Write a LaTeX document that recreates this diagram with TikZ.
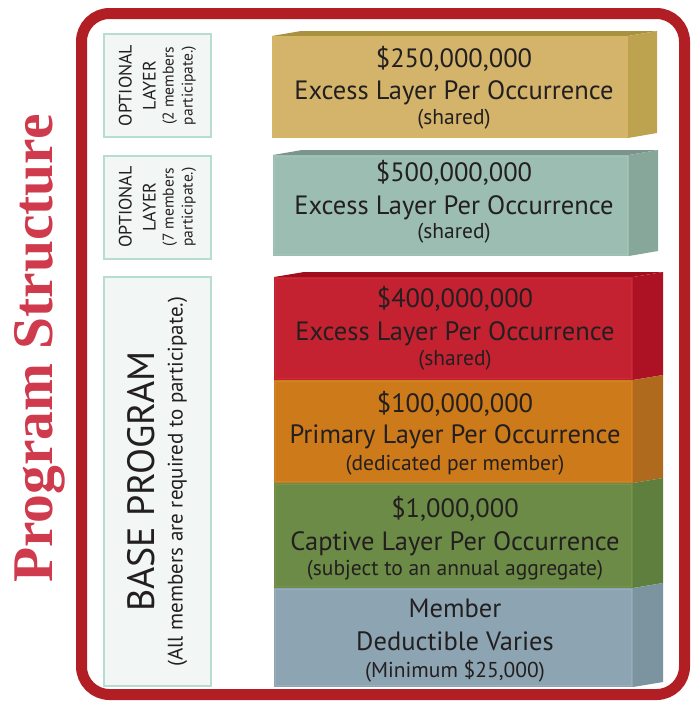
\documentclass[tikz,border=0pt]{standalone}
\usepackage{fontspec}
\setmainfont{PT Sans}
\newfontfamily\titlefont{Liberation Serif}
\definecolor{frame}{HTML}{B11F24}
\definecolor{titlec}{HTML}{CF3A4C}
\definecolor{boxfill}{HTML}{F2F6F5}
\definecolor{boxline}{HTML}{B7DCD1}
\definecolor{txt}{HTML}{231F20}
\definecolor{goldF}{HTML}{D3B46A}\definecolor{goldT}{HTML}{A8913F}\definecolor{goldS}{HTML}{BDA250}\definecolor{goldE}{HTML}{D8B85E}
\definecolor{tealF}{HTML}{9CBDB1}\definecolor{tealT}{HTML}{7C958C}\definecolor{tealS}{HTML}{88A79B}\definecolor{tealE}{HTML}{A3C3B8}
\definecolor{redF}{HTML}{C42231}\definecolor{redT}{HTML}{9E0E1C}\definecolor{redS}{HTML}{AD1224}\definecolor{redE}{HTML}{CC2A38}
\definecolor{oraF}{HTML}{CD7A1A}\definecolor{oraS}{HTML}{AF6A1D}\definecolor{oraE}{HTML}{D2842A}
\definecolor{grnF}{HTML}{6C8B46}\definecolor{grnS}{HTML}{5F7F3F}\definecolor{grnE}{HTML}{76944F}
\definecolor{bluF}{HTML}{8DA5B2}\definecolor{bluS}{HTML}{7C94A0}\definecolor{bluE}{HTML}{98AFBB}
\tikzset{
  sidebox/.style={fill=boxfill, draw=boxline, line width=2pt, rotate=90, align=center, inner sep=0pt, text=txt},
  bigline/.style={font=\fontsize{26.5}{30}\selectfont, text=txt, anchor=base, inner sep=0pt},
  smallline/.style={font=\fontsize{21.5}{24}\selectfont, text=txt, anchor=base, inner sep=0pt},
}
% front x1 y1 x2 y2, depth dx, colours prefix
\newcommand\blockside[6]{%
  \fill[#6S] (#3,#2) -- ++(#5,-5) -- ++(0,{#4-#2}) -- (#3,#4) -- cycle;
  \fill[#6F] (#1,#2) rectangle (#3,#4);
  \draw[#6E, line width=1pt] ({#1+1.5},{#2+1.5}) rectangle ({#3-1.5},{#4-1.5});
}
\newcommand\blocktop[6]{%
  \fill[#6T] (#1,#2) -- ++(#5,-5) -- ({#3+#5},{#2-5}) -- (#3,#2) -- cycle;
}
\begin{document}
\begin{tikzpicture}[x=1pt,y=-1pt]
\useasboundingbox (0,0) rectangle (692,702);
% frame
\draw[frame, line width=11pt, rounded corners=28pt] (81.5,13.5) rectangle (684.5,694.5);
% title
\node[rotate=90, anchor=base, inner sep=0pt, text=titlec, font=\titlefont\bfseries\fontsize{57.5}{60}\selectfont] (title) at (52,348.5) {Program Structure};
% left labels
\node[sidebox, minimum width=103pt, minimum height=107pt, font=\fontsize{18}{24}\selectfont] (opt1) at (157.5,85.5)
  {OPTIONAL\\LAYER\\[-6pt]{\fontsize{15.5}{19}\selectfont (2 members}\\[-5pt]{\fontsize{15.5}{19}\selectfont participate.)}};
\node[sidebox, minimum width=103pt, minimum height=107pt, font=\fontsize{18}{24}\selectfont] (opt2) at (157.5,207)
  {OPTIONAL\\LAYER\\[-6pt]{\fontsize{15.5}{19}\selectfont (7 members}\\[-5pt]{\fontsize{15.5}{19}\selectfont participate.)}};
\node[sidebox, minimum width=409pt, minimum height=107pt, font=\fontsize{38}{28}\selectfont] (base) at (157.5,481.5)
  {BASE PROGRAM\\{\fontsize{21}{24}\selectfont (All members are required to participate.)}};
% gold block
\blocktop{272}{36}{628}{138}{29}{gold}
\blockside{272}{36}{628}{138}{29}{gold}
\node[bigline] (g1) at (454,67) {\$250,000,000};
\node[bigline] (g2) at (454,99) {Excess Layer Per Occurrence};
\node[smallline] (g3) at (454,124) {(shared)};
% teal block
\blocktop{273}{155}{629}{256}{29}{teal}
\blockside{273}{155}{629}{256}{29}{teal}
\node[bigline] (t1) at (454,181) {\$500,000,000};
\node[bigline] (t2) at (454,214) {Excess Layer Per Occurrence};
\node[smallline] (t3) at (454,238) {(shared)};
% base stack
\blocktop{274}{277}{633}{380}{30}{red}
\blockside{274}{277}{633}{380}{30}{red}
\blockside{274}{380}{633}{483}{30}{ora}
\blockside{274}{483}{633}{588}{30}{grn}
\blockside{274}{588}{633}{687}{30}{blu}
\node[bigline] (r1) at (455,307) {\$400,000,000};
\node[bigline] (r2) at (455,340) {Excess Layer Per Occurrence};
\node[smallline] (r3) at (455,365) {(shared)};
\node[bigline] (o1) at (455,412) {\$100,000,000};
\node[bigline] (o2) at (455,443) {Primary Layer Per Occurrence};
\node[smallline] (o3) at (455,470) {(dedicated per member)};
\node[bigline] (c1) at (455,517) {\$1,000,000};
\node[bigline] (c2) at (455,550) {Captive Layer Per Occurrence};
\node[smallline] (c3) at (455,575) {(subject to an annual aggregate)};
\node[bigline] (m1) at (455,617) {Member};
\node[bigline] (m2) at (455,650) {Deductible Varies};
\node[smallline] (m3) at (455,677) {(Minimum \$25,000)};
\end{tikzpicture}
\end{document}
